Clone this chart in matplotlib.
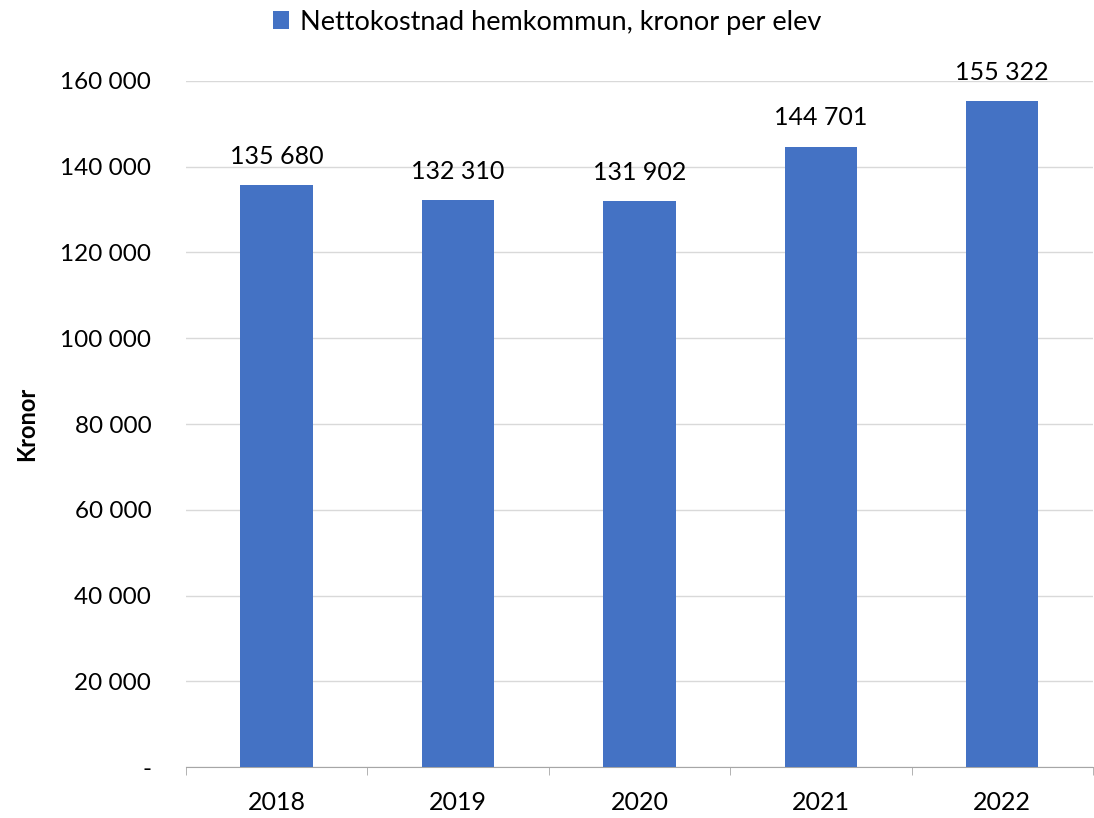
import matplotlib.pyplot as plt
import numpy as np

years = ["2018", "2019", "2020", "2021", "2022"]
kronor = [135680, 132310, 131902, 144701, 155322]
series_name = "Nettokostnad hemkommun, kronor per elev"
y_ticks = [0, 20000, 40000, 60000, 80000, 100000, 120000, 140000, 160000]

plt.rcParams["font.family"] = ["Lato", "DejaVu Sans"]


def fmt(v):
    # space as thousands separator, zero shown as a dash
    return "-" if v == 0 else f"{v:,}".replace(",", " ")


fig = plt.figure(figsize=(10.94, 8.18), dpi=100)
ax = fig.add_axes([0.170, 0.0623, 0.829, 0.8387])

x = np.arange(len(years))
bars = ax.bar(x, kronor, width=0.4, color="#4472C4", label=series_name, zorder=3)

for xi, v in zip(x, kronor):
    ax.text(xi, v + 4000, fmt(v), ha="center", va="bottom", fontsize=18, color="#000000")

ax.set_xlim(-0.5, len(years) - 0.5)
ax.set_ylim(0, 160000)
ax.set_yticks(y_ticks)
ax.set_yticklabels([fmt(t) for t in y_ticks], fontsize=17.5)
ax.yaxis.grid(True, color="#D9D9D9", linewidth=1, zorder=0)
ax.tick_params(axis="y", length=0, pad=25)

ax.set_xticks(x)
ax.set_xticklabels(years, fontsize=18)
ax.set_xticks(np.arange(-0.5, len(years)), minor=True)
ax.tick_params(axis="x", which="major", length=0, pad=17)
ax.tick_params(axis="x", which="minor", length=6, color="#A6A6A6", direction="out")

for side in ["top", "right", "left"]:
    ax.spines[side].set_visible(False)
ax.spines["bottom"].set_color("#A6A6A6")

ax.set_ylabel("Kronor", fontsize=17, fontweight="bold", labelpad=16)

fig.legend(handles=[bars], labels=[series_name], loc="center", bbox_to_anchor=(0.5, 0.973),
           frameon=False, fontsize=19.5, handlelength=0.6, handleheight=0.6, handletextpad=0.4)

fig.savefig("out.png", dpi=100)
